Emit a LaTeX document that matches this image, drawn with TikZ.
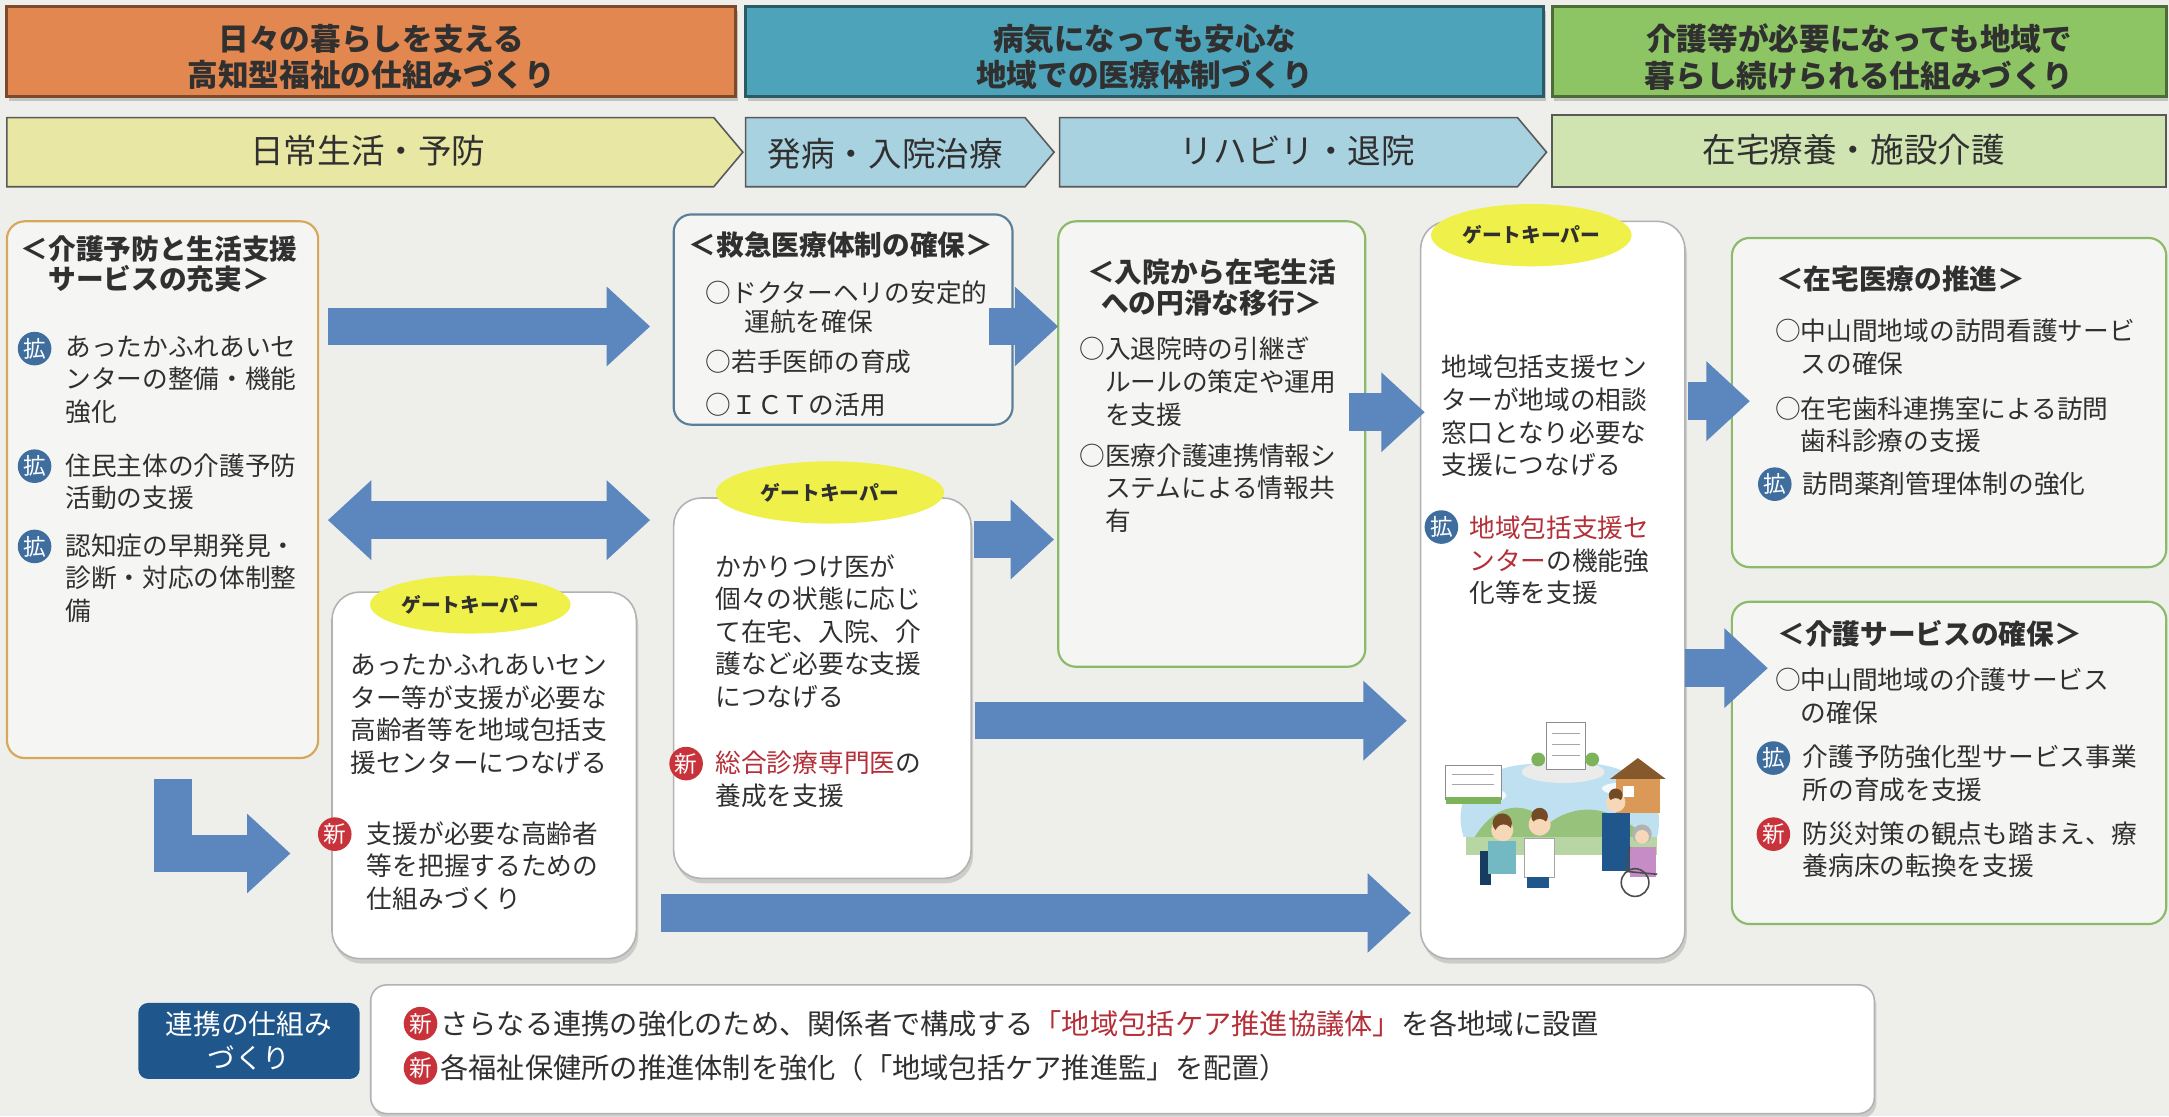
\documentclass[tikz,border=0pt]{standalone}
\usepackage{fontspec}
\setmainfont{Noto Sans CJK JP}
\usetikzlibrary{arrows.meta,calc,positioning,fit,shapes.geometric,shadows}
\definecolor{paper}{HTML}{EEEFEA}
\definecolor{ink}{HTML}{303030}
\definecolor{hdrorange}{HTML}{E2874F}
\definecolor{hdrteal}{HTML}{4DA4BA}
\definecolor{hdrgreen}{HTML}{8DC464}
\definecolor{stageyellow}{HTML}{E8E7A4}
\definecolor{stageblue}{HTML}{A9D2E1}
\definecolor{stagegreen}{HTML}{CFE4B0}
\definecolor{arrowblue}{HTML}{5B87BE}
\definecolor{badgeblue}{HTML}{3F6E9E}
\definecolor{badgered}{HTML}{C8323A}
\definecolor{textred}{HTML}{B52F38}
\definecolor{framebrown}{HTML}{D7A75C}
\definecolor{frameblue}{HTML}{5C7F99}
\definecolor{framegreen}{HTML}{8DBA6A}
\definecolor{gkyellow}{HTML}{F0F04A}
\definecolor{navy}{HTML}{1F568C}
\definecolor{skyblue}{HTML}{BFE0F0}
\definecolor{hillgreen}{HTML}{7DB35A}
\definecolor{skin}{HTML}{F6D7B8}
\newcommand\pxu{0.7pt}
\newcommand\bodyfont{\fontsize{13}{16.5}\selectfont}
\newcommand\ttlfont{\fontsize{14}{15.5}\selectfont\bfseries}
\newcommand\hl[1]{\textcolor{textred}{#1}}
\tikzset{>=Latex,
  hdr/.style={draw=#1!55!black,fill=#1,line width=1.5pt,inner sep=0pt,
    drop shadow={shadow xshift=1pt,shadow yshift=-2pt,opacity=.4}},
  hdrtxt/.style={inner sep=0pt,align=center,font=\fontsize{15.5}{18.5}\selectfont\bfseries,text=ink},
  stage/.style={draw=black!65,fill=#1,line width=.8pt,line join=miter},
  stagelbl/.style={inner sep=0pt,font=\fontsize{17}{20}\selectfont,text=ink},
  frame/.style={draw=#1,line width=1.1pt,rounded corners=9pt,fill=white,fill opacity=.45,inner sep=0pt},
  gkbox/.style={draw=black!30,line width=.8pt,rounded corners=14pt,fill=white,inner sep=0pt,
    drop shadow={shadow xshift=1pt,shadow yshift=-2.5pt,opacity=.3}},
  gk/.style={ellipse,fill=gkyellow,inner sep=0pt,font=\fontsize{10}{11}\selectfont\bfseries,text=ink},
  body/.style={anchor=north west,align=left,inner sep=0pt,font=\bodyfont,text=ink},
  ttl/.style={anchor=north,align=center,inner sep=0pt,font=\ttlfont,text=ink},
  badge/.style={circle,fill=#1,text=white,inner sep=0pt,minimum size=17pt,font=\fontsize{11.5}{11.5}\selectfont},
  kaku/.style={badge=badgeblue},
  shin/.style={badge=badgered},
  bigarrow/.style={draw=arrowblue,line width=19pt,-{Triangle[length=22pt,width=39pt]}},
  bothways/.style={draw=arrowblue,line width=19pt,
    {Triangle[length=22pt,width=39pt]}-{Triangle[length=22pt,width=39pt]}}}

\begin{document}
\begin{tikzpicture}[x=\pxu,y=-\pxu]
\useasboundingbox (0,0) rectangle (1568,807);
\fill[paper] (0,0) rectangle (1568,807);

% policy headers
\foreach \nm/\col/\xa/\xb/\txt in {hdrwel/hdrorange/5/532/{日々の暮らしを支える\\高知型福祉の仕組みづくり},
  hdrmed/hdrteal/539/1116/{病気になっても安心な\\地域での医療体制づくり},
  hdrcare/hdrgreen/1122/1566/{介護等が必要になっても地域で\\暮らし続けられる仕組みづくり}}{
  \node[hdr=\col,fit={(\xa,5)(\xb,70)}] (\nm) {};
  \node[hdrtxt] (\nm txt) at ([yshift=-2.5pt]\nm.center) {\txt};}

% care stages, pointed to the right
\foreach \col/\xa/\xb in {stageyellow/5/537,stageblue/539/762,stageblue/766/1118}
  \draw[stage=\col] (\xa,85) -- ({\xb-21},85) -- (\xb,110) -- ({\xb-21},135) -- (\xa,135) -- cycle;
\draw[stage=stagegreen] (1122,83) rectangle (1566,135);
\node[stagelbl] (stdaily) at (266,109) {日常生活・予防};
\node[stagelbl] (stonset) at (640,111) {発病・入院治療};
\node[stagelbl] (strehab) at (938,109) {リハビリ・退院};
\node[stagelbl] (sthome) at (1340,108) {在宅療養・施設介護};

% topic frames
\node[frame=framebrown,fit={(5,160)(230,548)}] (kaigo) {};
\node[frame=frameblue,fit={(487,155)(732,307)}] (kyukyu) {};
\node[frame=framegreen,fit={(765,160)(987,482)}] (nyuin) {};
\node[frame=framegreen,fit={(1252,172)(1566,410)}] (zaitaku) {};
\node[frame=framegreen,fit={(1252,435)(1566,668)}] (kaigosv) {};

% gatekeeper boxes
\node[gkbox,fit={(240,428)(460,693)}] (gkwel) {};
\node[gkbox,fit={(487,360)(702,635)}] (gkdoc) {};
\node[gkbox,fit={(1027,160)(1218,693)}] (gkctr) {};
\node[gk,minimum width=145*\pxu,minimum height=42*\pxu] (gkwellbl) at (340,437) {ゲートキーパー};
\node[gk,minimum width=165*\pxu,minimum height=45*\pxu] (gkdoclbl) at (600,356) {ゲートキーパー};
\node[gk,minimum width=145*\pxu,minimum height=45*\pxu] (gkctrlbl) at (1107,170) {ゲートキーパー};

% daily life column
\node[ttl] (kaigottl) at (115,170) {＜介護予防と生活支援\\サービスの充実＞};
\node[kaku] (kb1) at (25,252) {拡};
\node[body] (kt1) at (47,242.5) {あったかふれあいセ\\ンターの整備・機能\\強化};
\node[kaku] (kb2) at (25,337) {拡};
\node[body] (kt2) at (47,327.5) {住民主体の介護予防\\活動の支援};
\node[kaku] (kb3) at (25,395) {拡};
\node[body] (kt3) at (47,385.5) {認知症の早期発見・\\診断・対応の体制整\\備};

\node[body] (wt1) at (253,472.5) {あったかふれあいセン\\ター等が支援が必要な\\高齢者等を地域包括支\\援センターにつなげる};
\node[shin] (wb1) at (242,603) {新};
\node[body] (wt2) at (265,593.5) {支援が必要な高齢者\\等を把握するための\\仕組みづくり};

% hospital column
\node[ttl] (kyukyuttl) at (608,167) {＜救急医療体制の確保＞};
\node[body] (qt1) at (510,202.5) {○ドクターヘリの安定的\\[-1.5pt]\hspace*{1.5em}運航を確保};
\node[body] (qt2) at (510,252.5) {○若手医師の育成};
\node[body] (qt3) at (510,283.5) {○ＩＣＴの活用};

\node[body] (dt1) at (517,400.5) {かかりつけ医が\\個々の状態に応じ\\て在宅、入院、介\\護など必要な支援\\につなげる};
\node[shin] (db1) at (496,552) {新};
\node[body] (dt2) at (517,542.5) {\hl{総合診療専門医}の\\養成を支援};

% discharge column
\node[ttl] (nyuinttl) at (876,187) {＜入院から在宅生活\\への円滑な移行＞};
\node[body] (nt1) at (780,243.5) {○入退院時の引継ぎ\\\hspace*{1em}ルールの策定や運用\\\hspace*{1em}を支援};
\node[body] (nt2) at (780,320.5) {○医療介護連携情報シ\\\hspace*{1em}ステムによる情報共\\\hspace*{1em}有};

% support centre column
\node[body] (ct1) at (1042,256.5) {地域包括支援セン\\ターが地域の相談\\窓口となり必要な\\支援につなげる};
\node[kaku] (cb1) at (1042,381) {拡};
\node[body] (ct2) at (1062,372.5) {\hl{地域包括支援セ}\\\hl{ンター}の機能強\\化等を支援};

% town scene
\begin{scope}
\fill[skyblue] (1058,605) .. controls (1046,565) and (1085,548) .. (1125,553)
  .. controls (1170,546) and (1207,566) .. (1198,605) -- cycle;
\fill[white!85!skyblue] (1075,575) ellipse (14 and 5) (1170,570) ellipse (12 and 4);
\fill[hillgreen!80!white] (1062,612) .. controls (1080,578) and (1102,578) .. (1120,595)
  .. controls (1140,580) and (1168,580) .. (1196,612) -- cycle;
\fill[hillgreen!55!white] (1060,605) rectangle (1198,618);
\fill[black!8] (1130,558) ellipse (30 and 8);
\filldraw[fill=white,draw=black!45,line width=.4pt] (1118,522) rectangle (1146,556);
\foreach \wy in {530,538,546} \draw[black!35,line width=.6pt] (1122,\wy) -- (1142,\wy);
\fill[hillgreen] (1112,549) circle (5) (1151,549) circle (5);
\filldraw[fill=white,draw=black!45,line width=.4pt] (1045,553) rectangle (1085,578);
\foreach \wy in {560,567} \draw[black!35,line width=.6pt] (1050,\wy) -- (1080,\wy);
\fill[hillgreen] (1045,576) rectangle (1085,581);
\fill[brown!70!orange!80!white] (1168,562) rectangle (1200,588);
\fill[brown!70!black] (1164,563) -- (1184,548) -- (1204,563) -- cycle;
\fill[white] (1173,568) rectangle (1181,576);
% seated pair
\fill[navy!70!black] (1070,615) rectangle (1078,640);
\fill[skyblue!60!teal] (1076,608) rectangle (1096,632);
\fill[skin] (1086,600) circle (8);
\fill[brown!60!black] (1086,595) circle (7);
\fill[skin] (1087,602) circle (6);
\fill[white] (1102,606) rectangle (1124,634);
\draw[black!35,line width=.4pt] (1102,606) rectangle (1124,634);
\fill[navy] (1104,634) rectangle (1120,642);
\fill[skin] (1113,596) circle (8);
\fill[brown!60!black] (1113,590) circle (6);
\fill[skin] (1113,598) circle (6);
% carer and wheelchair
\fill[navy] (1158,588) rectangle (1178,630);
\fill[skin] (1168,580) circle (7);
\fill[brown!60!black] (1168,575) circle (5);
\fill[skin] (1168,582) circle (5);
\fill[violet!45!white] (1178,612) rectangle (1197,634);
\fill[black!30] (1187,603) circle (7);
\fill[skin] (1187,605) circle (5);
\draw[black!70,line width=.8pt] (1182,638) circle (10);
\draw[black!70,line width=.8pt] (1178,612) -- (1176,630) -- (1198,632);
\end{scope}

% home medical care
\node[ttl] (zaitakuttl) at (1374,192) {＜在宅医療の推進＞};
\node[body] (zt1) at (1283,230.5) {○中山間地域の訪問看護サービ\\\hspace*{1em}スの確保};
\node[body] (zt2) at (1283,286.5) {○在宅歯科連携室による訪問\\\hspace*{1em}歯科診療の支援};
\node[kaku] (zb1) at (1283,350) {拡};
\node[body] (zt3) at (1303,340.5) {訪問薬剤管理体制の強化};

% care services
\node[ttl] (kaigosvttl) at (1395,448) {＜介護サービスの確保＞};
\node[body] (st1) at (1283,482.5) {○中山間地域の介護サービス\\\hspace*{1em}の確保};
\node[kaku] (sb1) at (1282,548) {拡};
\node[body] (st2) at (1303,538.5) {介護予防強化型サービス事業\\所の育成を支援};
\node[shin] (sb2) at (1282,603) {新};
\node[body] (st3) at (1303,593.5) {防災対策の観点も踏まえ、療\\養病床の転換を支援};

% linkage strip
\node[fill=navy,rounded corners=5pt,inner sep=0pt,fit={(100,725)(260,780)}] (renkei) {};
\node[text=white,align=center,font=\fontsize{14}{17.5}\selectfont] (renkeitxt) at (renkei.center) {連携の仕組み\\づくり};
\node[gkbox,rounded corners=8pt,fit={(268,712)(1355,805)}] (linkbox) {};
\node[shin] (lb1) at (304,740) {新};
\node[anchor=west,inner sep=0pt,text=ink,font=\fontsize{14.3}{16}\selectfont] (lt1) at (318,740)
  {さらなる連携の強化のため、関係者で構成する\hl{「地域包括ケア推進協議体」}を各地域に設置};
\node[shin] (lb2) at (304,772) {新};
\node[anchor=west,inner sep=0pt,text=ink,font=\fontsize{14.3}{16}\selectfont] (lt2) at (318,772)
  {各福祉保健所の推進体制を強化（「地域包括ケア推進監」を配置）};

% flow arrows
\coordinate (a1s) at (237,236); \coordinate (a1e) at (470,236);
\coordinate (a2s) at (237,376); \coordinate (a2e) at (470,376);
\coordinate (a3s) at (715,236); \coordinate (a3e) at (765,236);
\coordinate (a4s) at (704,390); \coordinate (a4e) at (762,390);
\coordinate (a5s) at (975,298); \coordinate (a5e) at (1030,298);
\coordinate (a6s) at (705,521); \coordinate (a6e) at (1017,521);
\coordinate (a7s) at (478,660); \coordinate (a7e) at (1020,660);
\coordinate (a8s) at (125,563); \coordinate (a8e) at (210,617);
\coordinate (a9s) at (1220,290); \coordinate (a9e) at (1265,290);
\coordinate (a10s) at (1218,483); \coordinate (a10e) at (1278,483);
\draw[bigarrow] (a1s) -- (a1e);
\draw[bothways] (a2s) -- (a2e);
\foreach \a in {3,...,7,9,10} \draw[bigarrow] (a\a s) -- (a\a e);
\draw[bigarrow,line join=miter] (a8s) |- (a8e);
\end{tikzpicture}
\end{document}
